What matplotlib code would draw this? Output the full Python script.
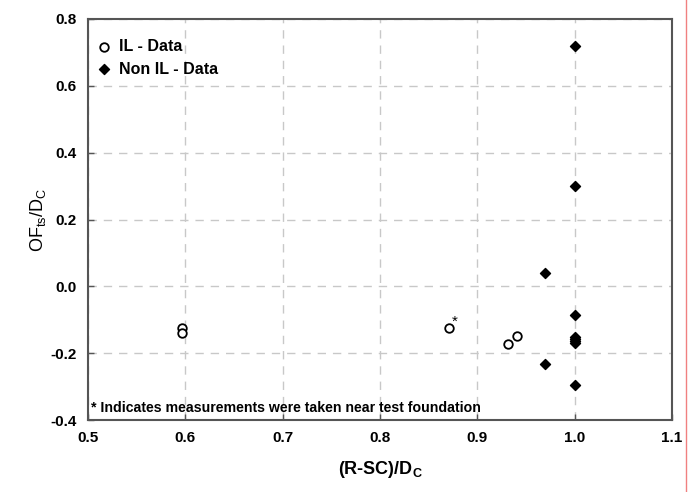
import matplotlib
matplotlib.use("Agg")
import matplotlib.pyplot as plt

plt.rcParams["font.family"] = ["Liberation Sans", "DejaVu Sans"]
plt.rcParams["mathtext.default"] = "regular"

# IL data
il_x = [0.597, 0.597, 0.871, 0.932, 0.941]
il_y = [-0.125, -0.140, -0.125, -0.172, -0.150]

# Non IL data
nil_x = [1.0, 1.0, 0.97, 1.0, 1.0, 1.0, 1.0, 1.0, 0.97, 1.0]
nil_y = [0.72, 0.30, 0.04, -0.085, -0.152, -0.158, -0.164, -0.170, -0.232, -0.295]

xticks = [0.5, 0.6, 0.7, 0.8, 0.9, 1.0, 1.1]
yticks = [-0.4, -0.2, 0.0, 0.2, 0.4, 0.6, 0.8]

fig = plt.figure(figsize=(6.94, 4.92), dpi=100)
ax = fig.add_axes([0.1268, 0.1463, 0.8415, 0.8151])

ax.scatter(il_x, il_y, s=38, facecolors="white", edgecolors="black",
           linewidths=1.3, zorder=3, label="IL - Data")
ax.scatter(nil_x, nil_y, s=26, marker="D", color="black", zorder=3,
           label="Non IL - Data")
ax.text(0.874, -0.105, "*", fontsize=11, ha="left", va="center")

ax.set_xlim(0.5, 1.1)
ax.set_ylim(-0.4, 0.8)
ax.set_xticks(xticks)
ax.set_yticks(yticks)
ax.set_xticklabels([f"{v:.1f}" for v in xticks], fontweight="bold", fontsize=11)
ax.set_yticklabels([f"{v:.1f}" for v in yticks], fontweight="bold", fontsize=11)
ax.tick_params(direction="in", length=4, width=1, colors="#555555",
               labelcolor="black", pad=8)
ax.grid(True, linestyle=(0, (6, 5)), color="#c8c8c8", linewidth=1)
ax.set_axisbelow(True)
for sp in ax.spines.values():
    sp.set_color("#555555")
    sp.set_linewidth(1.5)

ax.set_xlabel("(R-SC)/D$_C$", fontsize=13, fontweight="bold", labelpad=10)
ax.set_ylabel("OF$_{ts}$/D$_C$", fontsize=13, labelpad=2)

ax.legend(loc="upper left", frameon=False, handletextpad=0.7,
          handlelength=0.5, borderaxespad=0.0, labelspacing=0.45,
          bbox_to_anchor=(0.01, 0.965),
          prop={"weight": "bold", "size": 11.5})
ax.text(0.503, -0.365, "* Indicates measurements were taken near test foundation",
        fontsize=10.2, fontweight="bold", va="center")

fig.add_artist(plt.Line2D([0.9885, 0.9885], [0.0, 1.0], color="#f08080",
                          linewidth=1, transform=fig.transFigure))

fig.savefig("out.png", dpi=100)
